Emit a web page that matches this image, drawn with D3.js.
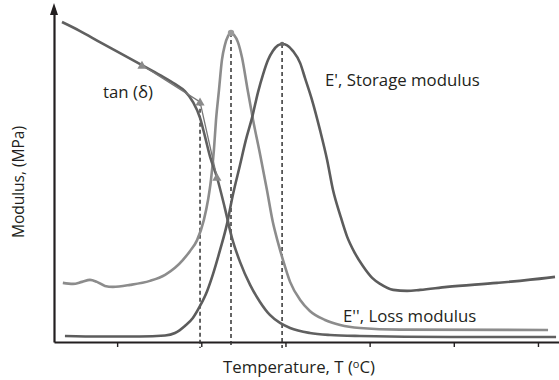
<!DOCTYPE html>
<html>
<head>
<meta charset="utf-8">
<script src="https://cdn.jsdelivr.net/npm/d3@7"></script>
<style>
  html, body { margin: 0; padding: 0; background: #fff; }
  svg { display: block; }
  text { font-family: "Open Sans", "Noto Sans", sans-serif; fill: #231f20; }
</style>
</head>
<body>
<svg id="chart" width="559" height="380"></svg>
<script>
// Temperature axis ticks (unlabelled) and the three DMA traces: [T, modulus]
const tickValues = [40, 60, 80, 100, 120, 140];
const tickLabels = ["", "", "", "", "", ""];

// descending trace labelled tan(δ)
const tanDelta = [
  [26.9, 95.8], [31.2, 93.1], [35.9, 89.8], [40.7, 86.5], [45.9, 82.9],
  [50.2, 79.9], [53.8, 77.2], [56.1, 75.1], [58.0, 71.9], [59.7, 67.1],
  [60.9, 61.4], [62.1, 55.4], [63.7, 49.4], [65.6, 40.1], [67.3, 31.1],
  [69.2, 24.0], [71.6, 17.1], [73.95, 12.0], [76.3, 8.1], [78.7, 5.7],
  [81.1, 4.2], [85.8, 2.7], [90.6, 2.1], [97.7, 1.8], [119.1, 1.5], [144.3, 1.5]
];

// tall narrow peak, loss modulus E''
const lossModulus = [
  [27.1, 17.7], [29.5, 17.4], [31.65, 18.0], [33.55, 18.6], [35.2, 18.0],
  [37.1, 16.8], [39.0, 16.5], [43.1, 17.1], [47.8, 18.3], [51.4, 20.1],
  [53.75, 22.2], [55.65, 24.6], [57.3, 27.2], [59.0, 30.5], [60.6, 36.5],
  [61.6, 42.5], [62.3, 48.5], [63.0, 57.5], [63.5, 66.5], [64.2, 75.4],
  [64.9, 84.4], [65.6, 88.9], [66.35, 91.6], [67.06, 92.5], [67.8, 91.9],
  [68.7, 89.8], [69.7, 85.0], [70.9, 76.3], [72.3, 66.5], [74.0, 56.0],
  [75.6, 45.5], [77.0, 35.9], [78.2, 29.9], [79.4, 24.6], [81.1, 18.0],
  [83.5, 12.6], [85.8, 9.3], [89.4, 6.6], [93.0, 5.1], [97.7, 4.2],
  [107.2, 3.7], [142.4, 3.6]
];

// broad peak, storage modulus E'
const storageModulus = [
  [27.6, 1.8], [35.9, 1.65], [45.4, 1.65], [51.4, 1.95], [53.75, 2.7],
  [56.1, 4.8], [58.0, 7.2], [59.7, 10.8], [61.4, 15.3], [62.8, 20.4],
  [64.45, 27.5], [66.1, 35.3], [67.5, 44.0], [69.2, 53.0], [70.6, 60.5],
  [72.05, 67.1], [73.5, 74.9], [74.7, 80.2], [75.85, 84.4], [77.0, 87.1],
  [78.2, 88.8], [79.2, 89.2], [80.4, 88.8], [81.8, 87.1], [83.5, 83.5],
  [84.65, 79.0], [86.3, 72.5], [88.2, 63.5], [89.9, 54.5], [91.3, 45.5],
  [93.0, 38.0], [94.6, 31.7], [96.5, 26.6], [98.4, 22.75], [100.6, 19.2],
  [102.5, 17.4], [105.6, 15.6], [108.9, 15.3], [112.0, 15.6], [118.4, 16.5],
  [130.3, 17.7], [142.15, 19.2], [144.05, 19.5]
];

// tangent construction points on the tan(δ) trace
const tangentPoints = [[45.9, 82.9], [59.7, 71.9], [63.7, 49.4]];
// peak markers and the temperatures they mark
const lossPeak = [67.06, 92.5];
const storagePeak = [79.2, 89.2];
const dropLines = [tangentPoints[1], lossPeak, storagePeak];

const svg = d3.select("#chart");
const x = d3.scaleLinear().domain([25, 145]).range([54, 559]);
const y = d3.scaleLinear().domain([0, 100]).range([342, 8]);

// axes
const xAxis = svg.append("g")
  .attr("transform", `translate(0,${y(0)})`)
  .call(d3.axisBottom(x).tickValues(tickValues)
    .tickFormat((d, i) => tickLabels[i]).tickSizeInner(5).tickSizeOuter(0));
xAxis.select(".domain").attr("stroke", "#231f20").attr("stroke-width", 2.2);
xAxis.selectAll(".tick line").attr("stroke", "#231f20").attr("stroke-width", 1.4);

const yAxis = svg.append("g")
  .attr("transform", `translate(${x(25)},0)`)
  .call(d3.axisLeft(y).tickValues([]).tickSizeOuter(0));
yAxis.select(".domain").attr("stroke", "#231f20").attr("stroke-width", 2.2);
svg.append("path")
  .attr("d", `M${x(25)},${y(100) - 5} L${x(25) - 4},${y(100) + 7} L${x(25) + 4},${y(100) + 7} Z`)
  .attr("fill", "#231f20");

// dashed drop lines from the marked temperatures to the axis
svg.selectAll("line.drop").data(dropLines).join("line")
  .attr("class", "drop")
  .attr("x1", d => x(d[0])).attr("x2", d => x(d[0]))
  .attr("y1", d => y(d[1])).attr("y2", y(0) + 6)
  .attr("stroke", "#333").attr("stroke-width", 1.5)
  .attr("stroke-dasharray", "4,3");

const line = d3.line().x(d => x(d[0])).y(d => y(d[1])).curve(d3.curveMonotoneX);

svg.append("path").datum(lossModulus).attr("d", line)
  .attr("fill", "none").attr("stroke", "#8c8c8c").attr("stroke-width", 2.6);
svg.append("path").datum(storageModulus).attr("d", line)
  .attr("fill", "none").attr("stroke", "#5c5c5c").attr("stroke-width", 2.6);
svg.append("path").datum(tanDelta).attr("d", line)
  .attr("fill", "none").attr("stroke", "#606060").attr("stroke-width", 2.6);

// tangent lines
svg.append("path")
  .attr("d", d3.line().x(d => x(d[0])).y(d => y(d[1]))(tangentPoints))
  .attr("fill", "none").attr("stroke", "#777").attr("stroke-width", 1.3);

// triangle markers
svg.selectAll("path.tri").data(tangentPoints).join("path")
  .attr("class", "tri")
  .attr("d", d3.symbol(d3.symbolTriangle, 36))
  .attr("transform", d => `translate(${x(d[0])},${y(d[1]) + 1})`)
  .attr("fill", "#8a8a8a");

svg.append("circle").attr("cx", x(lossPeak[0])).attr("cy", y(lossPeak[1]))
  .attr("r", 3.2).attr("fill", "#9a9a9a");
svg.append("circle").attr("cx", x(storagePeak[0])).attr("cy", y(storagePeak[1]))
  .attr("r", 2.2).attr("fill", "#6a6a6a");

// labels
const fs = 16.8;
svg.append("text").attr("x", 103).attr("y", 98).attr("font-size", fs).text("tan (δ)");
svg.append("text").attr("x", 325).attr("y", 86).attr("font-size", fs).text("E', Storage modulus");
svg.append("text").attr("x", 343).attr("y", 322).attr("font-size", fs).text("E'', Loss modulus");

const xt = svg.append("text").attr("x", 299).attr("y", 373)
  .attr("text-anchor", "middle").attr("font-size", fs);
xt.append("tspan").text("Temperature, T (");
xt.append("tspan").attr("font-size", 11).attr("dy", -5).text("o");
xt.append("tspan").attr("dy", 5).text("C)");

svg.append("text").attr("transform", "translate(24,182) rotate(-90)")
  .attr("text-anchor", "middle").attr("font-size", 15.5).text("Modulus, (MPa)");
</script>
</body>
</html>
